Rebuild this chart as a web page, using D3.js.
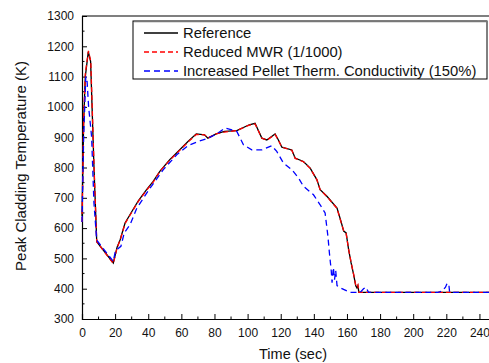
<!doctype html>
<html>
  <head>
    <script src="https://d3js.org/d3.v7.min.js"></script>
    <style>
      body { margin: 0; background: white; }
      text { font-family: "Liberation Sans", Arial, sans-serif; fill: #111; }
    </style>
  </head>

  <body>
    <svg class="chart" width=489 height=363></svg>

    <script>
        // time (sec), temperature (K)
        var refTime = [0, 1, 2, 3.8, 5.2, 7.3, 8.9, 18.9, 21.2, 23, 26, 32, 34, 39, 43, 47, 53, 58, 64, 69, 74, 76, 81, 86, 93.5, 101, 104.5, 108.6, 111.6, 116.6, 118.6, 120.7, 126.7, 128.7, 133.7, 137.8, 141.8, 143.8, 147.9, 154, 156.5, 158, 159.5, 161, 162.5, 164, 165.3, 166, 166.6, 167.2, 250];
        var refTemp = [640, 950, 1100, 1182, 1150, 790, 555, 485, 537, 561, 617, 672, 690, 727, 754, 787, 826, 853, 886, 911, 908, 897, 911, 919, 922, 941, 946, 897, 891, 911, 891, 867, 858, 831, 820, 798, 760, 727, 705, 666, 620, 590, 584, 529, 485, 447, 410, 403, 410, 388, 388];

        var mwrTime = [0, 1, 2, 3.9, 5.3, 7.3, 8.9, 18.9, 21.2, 23, 26, 32, 34, 39, 43, 47, 53, 58, 64, 69, 74, 76, 81, 86, 93.5, 101, 104.5, 108.6, 111.6, 116.6, 118.6, 120.7, 126.7, 128.7, 133.7, 137.8, 141.8, 143.8, 147.9, 154, 156.5, 158, 159.5, 161, 162.5, 164, 165.3, 166, 166.6, 167.2, 250];
        var mwrTemp = [620, 960, 1110, 1185, 1150, 800, 555, 483, 535, 560, 615, 670, 688, 725, 752, 787, 824, 851, 884, 909, 908, 897, 911, 917, 922, 940, 944, 897, 890, 909, 890, 867, 857, 830, 819, 797, 760, 727, 704, 665, 618, 592, 582, 530, 487, 448, 412, 405, 412, 388, 388];

        var condTime = [0, 1, 2.3, 3, 4, 5.8, 7.2, 8.9, 18.9, 20, 21.5, 23.5, 25.5, 29, 33.1, 41.1, 49.1, 57.2, 64.2, 70.3, 76.3, 81.4, 86.4, 90.5, 93.5, 97.5, 102.5, 108.6, 114.6, 117.6, 121.6, 126.7, 130.8, 133.7, 139.8, 143.8, 146.8, 148.5, 149.4, 150.5, 151, 151.8, 152.5, 153.2, 154, 157, 162, 168, 170, 171.5, 173, 215, 217.5, 219.5, 220.5, 221.5, 222, 250];
        var condTemp = [620, 900, 1100, 1090, 1000, 902, 684, 560, 490, 520, 531, 540, 584, 611, 666, 732, 793, 842, 873, 886, 897, 911, 930, 924, 919, 875, 858, 858, 872, 853, 815, 793, 765, 738, 710, 677, 650, 573, 518, 460, 420, 470, 430, 460, 410, 400, 388, 388, 400, 405, 388, 388, 392, 405, 418, 415, 388, 388];

        var seriesNames = ["Reference", "Reduced MWR (1/1000)", "Increased Pellet Therm. Conductivity (150%)"];
        var xTicks = [0, 20, 40, 60, 80, 100, 120, 140, 160, 180, 200, 220, 240];
        var yTicks = [300, 400, 500, 600, 700, 800, 900, 1000, 1100, 1200, 1300];

        var svg = d3.select("svg");

        var xScale = d3.scaleLinear().domain([0, 250]).range([82, 496]);
        var yScale = d3.scaleLinear().domain([300, 1300]).range([319, 16]);

        // minor ticks
        var xMinor = d3.range(10, 250, 20);
        var yMinor = d3.range(350, 1300, 100);

        svg.append("line")
            .attr("x1", 82).attr("x2", 496).attr("y1", 16).attr("y2", 16)
            .attr("stroke", "black").attr("stroke-width", 1.2);

        var xAxis = svg.append("g")
            .attr("transform", "translate(0,319)")
            .call(d3.axisBottom(xScale).tickValues(xTicks).tickSize(-5).tickPadding(9).tickFormat(function(d){return d;}));
        xAxis.selectAll("text").style("font-size", "12px").attr("font-family", null);
        xAxis.append("g").selectAll("line")
            .data(xMinor)
            .enter().append("line")
                .attr("x1", function(d){return xScale(d);})
                .attr("x2", function(d){return xScale(d);})
                .attr("y1", 0).attr("y2", -2.5)
                .attr("stroke", "black");

        var yAxis = svg.append("g")
            .attr("transform", "translate(82,0)")
            .call(d3.axisLeft(yScale).tickValues(yTicks).tickSize(-5).tickPadding(8).tickFormat(function(d){return d;}));
        yAxis.selectAll("text").style("font-size", "12px").attr("font-family", null);
        yAxis.append("g").selectAll("line")
            .data(yMinor)
            .enter().append("line")
                .attr("y1", function(d){return yScale(d);})
                .attr("y2", function(d){return yScale(d);})
                .attr("x1", 0).attr("x2", 2.5)
                .attr("stroke", "black");
        svg.selectAll(".domain").attr("stroke-width", 1.2);

        function toPoints(ts, vs) {
            return ts.map(function(t, i){return [t, vs[i]];});
        }

        var line = d3.line()
            .x(function(d){return xScale(d[0]);})
            .y(function(d){return yScale(d[1]);});

        var series = [
            {pts: toPoints(refTime, refTemp), color: "black", dash: null},
            {pts: toPoints(mwrTime, mwrTemp), color: "#ff0000", dash: "5,3"},
            {pts: toPoints(condTime, condTemp), color: "#0000ff", dash: "6,4"}
        ];

        svg.selectAll(".series")
            .data(series)
            .enter().append("path")
                .attr("class", "series")
                .attr("d", function(d){return line(d.pts);})
                .attr("fill", "none")
                .attr("stroke", function(d){return d.color;})
                .attr("stroke-width", 1.3)
                .attr("stroke-dasharray", function(d){return d.dash;});

        // legend
        var legend = svg.append("g");
        legend.append("rect")
            .attr("x", 133).attr("y", 21).attr("width", 354).attr("height", 58)
            .attr("fill", "white").attr("stroke", "black").attr("stroke-width", 1);
        legend.append("line")
            .attr("x1", 134).attr("x2", 487).attr("y1", 21.5).attr("y2", 21.5)
            .attr("stroke", "#777").attr("stroke-width", 1.5);
        var rows = legend.selectAll(".row")
            .data(series)
            .enter().append("g")
                .attr("transform", function(d, i){return "translate(0," + (33 + i * 19) + ")";});
        rows.append("line")
            .attr("x1", 144).attr("x2", 178).attr("y1", 0).attr("y2", 0)
            .attr("stroke", function(d){return d.color;})
            .attr("stroke-width", 1.3)
            .attr("stroke-dasharray", function(d){return d.dash;});
        rows.append("text")
            .attr("x", 183).attr("y", 5)
            .style("font-size", "14.8px")
            .text(function(d, i){return seriesNames[i];});

        // axis titles
        svg.append("text")
            .attr("transform", "translate(26,166) rotate(-90)")
            .attr("text-anchor", "middle")
            .style("font-size", "15px")
            .text("Peak Cladding Temperature (K)");
        svg.append("text")
            .attr("x", 293).attr("y", 359)
            .attr("text-anchor", "middle")
            .style("font-size", "14.5px")
            .text("Time (sec)");
    </script>
  </body>
</html>
